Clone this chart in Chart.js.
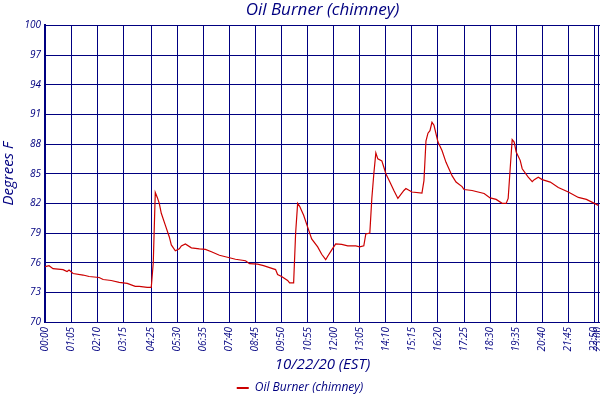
<!DOCTYPE html>
<html>
<head>
<meta charset="utf-8">
<script src="https://cdn.jsdelivr.net/npm/chart.js@4.4.0/dist/chart.umd.min.js"></script>
<style>
  body { margin: 0; background: #fff; }
  #wrap { width: 600px; height: 400px; }
</style>
</head>
<body>
<div id="wrap"><canvas id="chart" width="600" height="400"></canvas></div>
<script>
// readings of the chimney sensor, 10/22/20
const times = [
  '00:00','00:10','00:20','00:45','00:55','01:00','01:10','01:35','01:50','02:15',
  '02:25','02:45','03:05','03:25','03:45','03:55','04:15','04:25','04:30','04:35',
  '04:40','04:45','04:50','05:00','05:10','05:15','05:25','05:35','05:40','05:50',
  '06:05','06:25','06:40','06:55','07:15','07:40','07:55','08:20','08:30','08:50',
  '09:05','09:20','09:35','09:40','09:50','10:05','10:10','10:20','10:25','10:30',
  '10:35','10:45','10:55','11:05','11:20','11:30','11:40','11:45','11:55','12:05',
  '12:20','12:35','12:55','13:05','13:15','13:20','13:30','13:35','13:40','13:45',
  '13:50','14:00','14:05','14:10','14:20','14:30','14:40','14:55','15:00','15:15',
  '15:40','15:45','15:50','15:55','16:00','16:05','16:10','16:20','16:30','16:40',
  '16:55','17:05','17:20','17:25','17:45','18:00','18:15','18:30','18:45','19:00',
  '19:10','19:15','19:20','19:25','19:30','19:35','19:45','19:50','20:05','20:15',
  '20:20','20:30','20:40','21:00','21:20','21:45','22:10','22:30','22:45','23:00'
];
const temps = [
  75.6, 75.7, 75.4, 75.3, 75.1, 75.25, 74.9, 74.75, 74.6, 74.5,
  74.3, 74.2, 74.0, 73.9, 73.6, 73.6, 73.5, 73.5, 76.0, 83.1,
  82.6, 82.0, 81.0, 79.8, 78.6, 77.8, 77.2, 77.4, 77.7, 77.9,
  77.5, 77.4, 77.35, 77.1, 76.75, 76.5, 76.35, 76.2, 75.9, 75.85,
  75.7, 75.5, 75.3, 74.8, 74.6, 74.2, 73.95, 73.95, 79.0, 82.0,
  81.7, 80.8, 79.6, 78.4, 77.6, 76.85, 76.3, 76.65, 77.3, 77.9,
  77.85, 77.7, 77.7, 77.6, 77.7, 78.9, 79.0, 82.5, 85.0, 87.1,
  86.5, 86.3, 85.65, 85.0, 84.15, 83.3, 82.5, 83.3, 83.5, 83.15,
  83.05, 84.3, 88.3, 89.1, 89.35, 90.2, 89.9, 88.2, 87.35, 86.15,
  84.8, 84.15, 83.7, 83.4, 83.3, 83.15, 83.0, 82.55, 82.4, 82.0,
  82.0, 82.5, 85.5, 88.45, 88.2, 87.2, 86.35, 85.5, 84.65, 84.2,
  84.4, 84.65, 84.4, 84.15, 83.6, 83.15, 82.6, 82.4, 82.1, 81.8
];
const tickLabels = [
  '00:00','01:05','02:10','03:15','04:25','05:30','06:35','07:40','08:45','09:50',
  '10:55','12:00','13:05','14:10','15:15','16:20','17:25','18:30','19:35','20:40',
  '21:45','22:50','23:00'
];
const seriesName = 'Oil Burner (chimney)';

const navy = '#000080';
const red = '#cc0000';

function toMinutes(t) {
  const p = t.split(':');
  return Number(p[0]) * 60 + Number(p[1]);
}

const points = times.map((t, i) => ({ x: toMinutes(t), y: temps[i] }));
const tickMinutes = tickLabels.map(toMinutes);

Chart.defaults.font.family = "'Open Sans', sans-serif";
Chart.defaults.font.style = 'italic';
Chart.defaults.color = navy;

// push the legend a bit lower, like the original
const nudgeLegend = {
  id: 'nudgeLegend',
  afterLayout(chart) {
    chart.legend.top += 4;
    chart.legend.bottom += 4;
  }
};

new Chart(document.getElementById('chart'), {
  type: 'line',
  data: {
    datasets: [{
      label: seriesName,
      data: points,
      borderColor: red,
      backgroundColor: red,
      borderWidth: 1.2,
      pointRadius: 0,
      tension: 0,
      fill: false
    }]
  },
  options: {
    responsive: false,
    animation: false,
    layout: { padding: 0 },
    plugins: {
      title: {
        display: true,
        text: seriesName,
        color: navy,
        fullSize: false,
        font: { size: 17, style: 'italic', weight: 'normal' },
        padding: { top: 0, bottom: 5 }
      },
      legend: {
        position: 'bottom',
        labels: {
          color: navy,
          usePointStyle: true,
          pointStyle: 'line',
          pointStyleWidth: 12,
          padding: 4,
          font: { size: 12, style: 'italic' },
          generateLabels: (chart) => Chart.defaults.plugins.legend.labels.generateLabels(chart)
            .map(l => Object.assign(l, { lineWidth: 2 }))
        }
      },
      tooltip: { enabled: false }
    },
    scales: {
      x: {
        type: 'linear',
        min: 0,
        max: 1384,
        afterBuildTicks: (scale) => {
          scale.ticks = tickMinutes.map(v => ({ value: v }));
        },
        afterFit: (scale) => {
          scale.height = scale.chart.height - 322 - scale.chart.legend.height;
          scale.paddingLeft = 0;
          scale.paddingRight = 0;
        },
        grid: { color: navy, lineWidth: 1, drawTicks: false },
        border: { color: navy, width: 1 },
        ticks: {
          autoSkip: false,
          maxRotation: 90,
          minRotation: 90,
          padding: 5,
          color: navy,
          font: { size: 10, style: 'italic' },
          callback: (v, i) => tickLabels[i]
        },
        title: {
          display: true,
          text: '10/22/20 (EST)',
          color: navy,
          font: { size: 15, style: 'italic' },
          padding: 0
        }
      },
      y: {
        min: 70,
        max: 100,
        afterFit: (scale) => { scale.width = 45; },
        grid: { color: navy, lineWidth: 1, drawTicks: false },
        border: { color: navy, width: 2 },
        ticks: {
          stepSize: 3,
          padding: 4,
          color: navy,
          font: { size: 10, style: 'italic' }
        },
        title: {
          display: true,
          text: 'Degrees F',
          color: navy,
          font: { size: 15, style: 'italic' },
          padding: 0
        }
      }
    }
  },
  plugins: [nudgeLegend]
});
</script>
</body>
</html>
